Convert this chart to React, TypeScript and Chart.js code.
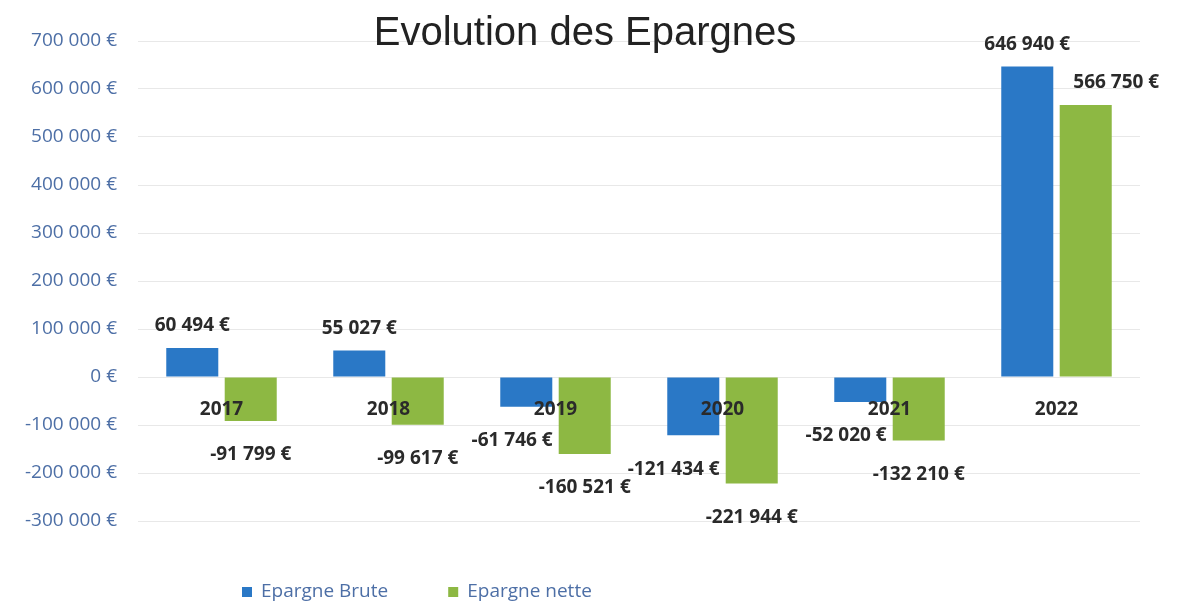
import { useEffect, useRef } from 'react';
import { Chart, registerables } from 'chart.js';

Chart.register(...registerables);

const titleText = 'Evolution des Epargnes';
const categories = ['2017', '2018', '2019', '2020', '2021', '2022'];
const seriesNames = ['Epargne Brute', 'Epargne nette'];
const epargneBrute = [60494, 55027, -61746, -121434, -52020, 646940];
const epargneNette = [-91799, -99617, -160521, -221944, -132210, 566750];
const yMin = -300000;
const yMax = 700000;
const yStep = 100000;

const BLUE = '#2a78c6';
const GREEN = '#8db843';
const AXIS_BLUE = '#4d6fa6';
const DARK = '#2a2a2a';

function fmtEuro(v: number): string {
  const neg = v < 0;
  const s = Math.abs(Math.round(v)).toString();
  const parts: string[] = [];
  for (let i = s.length; i > 0; i -= 3) parts.unshift(s.slice(Math.max(0, i - 3), i));
  return (neg ? '-' : '') + parts.join(' ') + ' €';
}

const decorPlugin = {
  id: 'decor',
  afterDraw(chart: any) {
    const ctx = chart.ctx as CanvasRenderingContext2D;
    const xScale = chart.scales.x;
    const yScale = chart.scales.y;
    ctx.save();

    // Title
    ctx.font = '40px "Liberation Sans", Arial, sans-serif';
    ctx.fillStyle = '#222';
    ctx.textAlign = 'center';
    ctx.textBaseline = 'alphabetic';
    ctx.fillText(titleText, 585, 45);

    // Category labels near the zero line
    const zeroY = yScale.getPixelForValue(0);
    ctx.font = 'bold 19px "Open Sans", sans-serif';
    ctx.fillStyle = DARK;
    ctx.textBaseline = 'middle';
    categories.forEach((c, i) => {
      ctx.fillText(c, xScale.getPixelForValue(i), zeroY + 33);
    });

    // bar rectangles for simple collision avoidance
    const rects: { l: number; r: number; t: number; b: number; cx: number }[] = [];
    chart.data.datasets.forEach((_ds: any, di: number) => {
      chart.getDatasetMeta(di).data.forEach((el: any) => {
        rects.push({
          l: el.x - el.width / 2,
          r: el.x + el.width / 2,
          t: Math.min(el.y, el.base),
          b: Math.max(el.y, el.base),
          cx: el.x,
        });
      });
    });

    // Data labels
    chart.data.datasets.forEach((ds: any, di: number) => {
      const meta = chart.getDatasetMeta(di);
      meta.data.forEach((el: any, i: number) => {
        const v = ds.data[i] as number;
        const text = fmtEuro(v);
        const y = v >= 0 ? el.y - 22 : el.y + 34;
        const w = ctx.measureText(text).width;
        let x = el.x;
        for (const r of rects) {
          if (Math.abs(r.cx - el.x) < 0.5) continue;
          const l0 = x - w / 2;
          const r0 = x + w / 2;
          if (l0 < r.r && r0 > r.l && y + 9 > r.t && y - 9 < r.b) {
            if (r.cx < el.x) x = r.r + 20 + w / 2;
            else x = r.l - 6 - w / 2;
          }
        }
        ctx.fillText(text, x, y);
      });
    });

    // Legend
    ctx.font = '19px "Open Sans", sans-serif';
    ctx.textAlign = 'left';
    const colors = [BLUE, GREEN];
    let lx = 242;
    const ly = 592;
    seriesNames.forEach((name, i) => {
      ctx.fillStyle = colors[i];
      ctx.fillRect(lx, ly - 5, 10, 10);
      ctx.fillStyle = AXIS_BLUE;
      ctx.fillText(name, lx + 19, ly);
      lx += 19 + ctx.measureText(name).width + 60;
    });

    ctx.restore();
  },
};

export default function App() {
  const ref = useRef<HTMLCanvasElement>(null);
  useEffect(() => {
    document.body.style.margin = '0';
    const chart = new Chart(ref.current as HTMLCanvasElement, {
      type: 'bar',
      data: {
        labels: categories,
        datasets: [
          {
            label: seriesNames[0],
            data: epargneBrute,
            backgroundColor: BLUE,
            categoryPercentage: 0.7,
            barPercentage: 0.89,
          },
          {
            label: seriesNames[1],
            data: epargneNette,
            backgroundColor: GREEN,
            categoryPercentage: 0.7,
            barPercentage: 0.89,
          },
        ],
      },
      options: {
        responsive: false,
        animation: false,
        layout: { padding: { top: 41, bottom: 85, right: 48, left: 0 } },
        scales: {
          x: { display: false },
          y: {
            min: yMin,
            max: yMax,
            ticks: {
              stepSize: yStep,
              callback: (v: any) => fmtEuro(Number(v)),
              color: AXIS_BLUE,
              font: { family: '"Open Sans", sans-serif', size: 19 },
              padding: 21,
            },
            grid: { color: '#e8e8e8', drawTicks: false },
            border: { display: false },
            afterFit: (s: any) => {
              s.width = 138;
            },
          },
        },
        plugins: {
          legend: { display: false },
          title: { display: false },
          tooltip: { enabled: false },
        },
      },
      plugins: [decorPlugin],
    } as any);
    return () => chart.destroy();
  }, []);
  return (
    <div style={{ width: 1188, height: 606, background: '#fff' }}>
      <canvas ref={ref} width={1188} height={606} />
    </div>
  );
}
